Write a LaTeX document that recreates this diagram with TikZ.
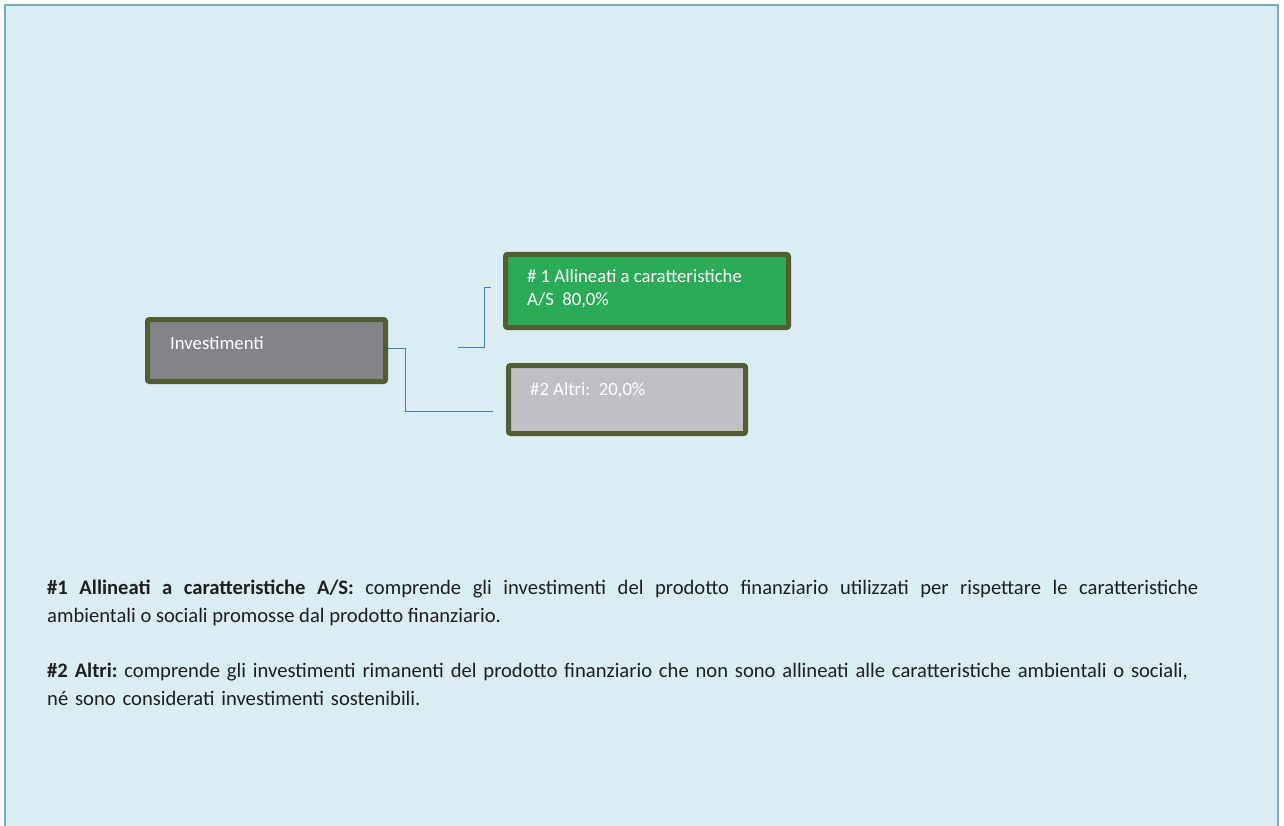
\documentclass[tikz,border=0pt]{standalone}
\usepackage{fontspec}
\setmainfont{Carlito}
\usepackage{xcolor}
\usetikzlibrary{positioning,calc}
\frenchspacing

\definecolor{framebg}{HTML}{DAEDF3}
\definecolor{frameline}{HTML}{78ADB8}
\definecolor{boxline}{HTML}{525D33}
\definecolor{invgray}{HTML}{838488}
\definecolor{alignedgreen}{HTML}{2BAB56}
\definecolor{othergray}{HTML}{BFC0C4}
\definecolor{linkblue}{HTML}{4A7EBB}
\definecolor{bodytext}{HTML}{1F1F1F}

\begin{document}
\begin{tikzpicture}[x=1pt, y=-1pt,
    box/.style={draw=boxline, line width=5pt, rounded corners=2pt, inner sep=0pt},
    boxtext/.style={text=white, font=\fontsize{18.7}{23}\selectfont, inner sep=0pt, anchor=base west, align=left},
    link/.style={draw=linkblue, line width=1pt},
    note/.style={text=bodytext, font=\fontsize{20.6}{28.5}\selectfont, inner sep=0pt, anchor=base west}]
    \useasboundingbox (0,0) rectangle (1284,826);
    \clip (0,0) rectangle (1284,826);
    % background frame
    \draw[frameline, line width=2pt, fill=framebg] (5,5) rectangle (1278,850);

    % boxes
    \node[box, fill=invgray, minimum width=238pt, minimum height=62pt] (inv) at (266.5,350.5) {};
    \node[box, fill=alignedgreen, minimum width=283pt, minimum height=73pt] (aligned) at (647,291) {};
    \node[box, fill=othergray, minimum width=237pt, minimum height=68pt] (others) at (627,399.5) {};

    % box texts (base = last line)
    \node[boxtext] (invtxt) at (170,349) {Investimenti};
    \node[boxtext] (alignedtxt) at (527,305) {\# 1 Allineati a caratteristiche\\A/S\ \ 80,0\%};
    \node[boxtext] (otherstxt) at (530,395) {\#2 Altri:\ \ 20,0\%};

    % connectors
    \coordinate (toothers) at (493,411);
    \coordinate (stub) at (458,347);
    \coordinate (toaligned) at (491,287);
    \draw[link] (inv.east |- 0,348) -- (405,348) |- (toothers);
    \draw[link] (stub) -- (484,347) |- (toaligned);

    % notes
    \node[note, text width=1151pt, align=justify] (note1) at (47,594) {\textbf{\#1 Allineati a caratteristiche A/S:} comprende gli investimenti del prodotto finanziario utilizzati per rispettare le caratteristiche\linebreak ambientali o sociali promosse dal prodotto finanziario.};
    \node[note, text width=1200pt, align=left] (note2) at (47,677) {\textbf{\#2 Altri:} comprende gli investimenti rimanenti del prodotto finanziario che non sono allineati alle caratteristiche ambientali o sociali,\\né sono considerati investimenti sostenibili.};
\end{tikzpicture}
\end{document}
